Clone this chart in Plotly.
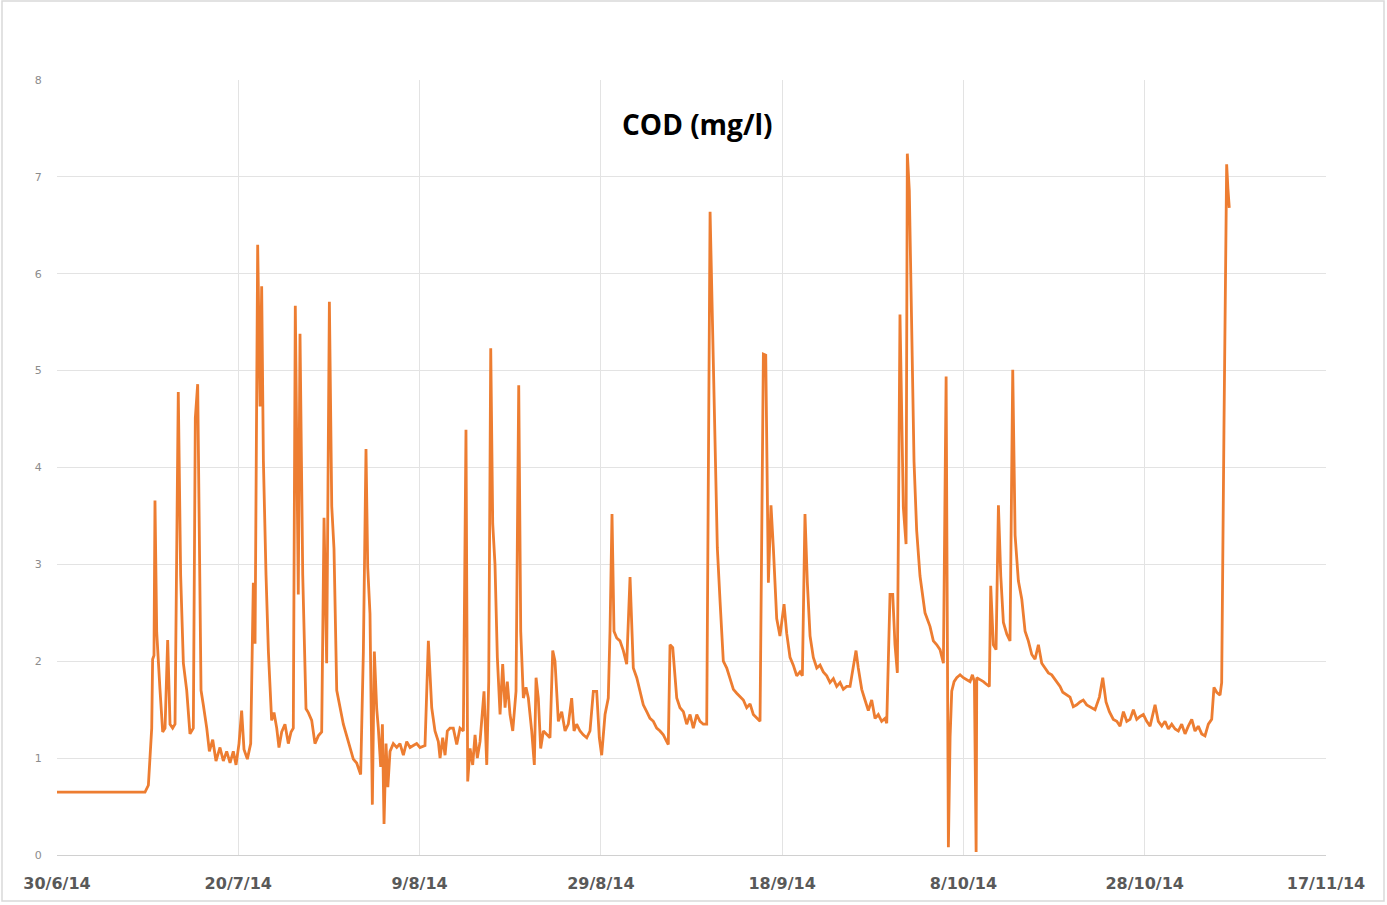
import pandas as pd
import plotly.graph_objects as go

start_date = "2014-06-30"

# time in days since 30/6/14 and COD value (mg/l)
days_since_start = [
    0.0, 9.71, 10.08, 10.45, 10.55, 10.70, 10.81, 11.0, 11.36, 11.66, 11.92, 12.21, 12.47, 12.76, 13.02,
    13.38, 13.64, 13.94, 14.31, 14.67, 15.04, 15.26, 15.52, 15.70, 15.89, 16.14, 16.52, 16.81, 17.18,
    17.54, 17.98, 18.35, 18.72, 19.09, 19.45, 19.75, 20.08, 20.37, 20.63, 21.0, 21.37, 21.66, 21.85,
    22.14, 22.40, 22.58, 22.77, 23.06, 23.32, 23.68, 23.94, 24.24, 24.49, 24.79, 25.15, 25.52, 25.82,
    26.07, 26.29, 26.62, 26.81, 27.11, 27.47, 27.73, 28.10, 28.46, 28.83, 29.20, 29.46, 29.75, 30.05,
    30.31, 30.56, 30.86, 31.22, 31.59, 31.96, 32.33, 32.69, 33.06, 33.50, 33.80, 34.09, 34.28, 34.53,
    34.79, 35.01, 35.27, 35.45, 35.71, 35.9, 36.08, 36.30, 36.5, 36.74, 37.10, 37.48, 37.84, 38.21,
    38.58, 38.95, 39.31, 39.68, 40.05, 40.60,
    40.97, 41.34, 41.70, 42.07, 42.26, 42.55, 42.81, 43.06, 43.36, 43.72, 44.10, 44.46, 44.83, 45.12,
    45.31, 45.57, 45.86, 46.12, 46.37, 46.67, 47.11, 47.41, 47.63, 47.85, 48.07, 48.32, 48.58, 48.88,
    49.17, 49.43, 49.68, 49.98, 50.28, 50.64, 50.94, 51.16, 51.45, 51.74, 52.0, 52.37, 52.66, 52.85,
    53.10, 53.36, 53.66, 54.03, 54.39, 54.69, 54.94, 55.31, 55.68, 56.05, 56.41, 56.78, 57.04, 57.33,
    57.70, 58.06, 58.44, 58.80, 59.17, 59.54, 59.83, 60.09, 60.46, 60.82, 61.01, 61.23, 61.45, 61.75,
    62.11, 62.48, 62.85, 63.22, 63.58, 63.96, 64.32, 64.68, 65.06, 65.42, 65.79, 66.16, 66.53, 66.89,
    67.27, 67.44, 67.63, 67.93, 68.37, 68.73, 69.10, 69.47, 69.84, 70.20, 70.58, 70.94, 71.30, 71.68,
    72.05, 72.41, 72.60, 72.85, 73.15, 73.51, 73.89, 74.25, 74.62, 74.99, 75.35, 75.72, 76.09, 76.46,
    76.82, 77.20, 77.56, 77.93, 78.19, 78.48, 78.77, 79.03, 79.40, 79.76, 80.21, 80.50, 80.87, 81.23,
    81.61, 81.97, 82.23, 82.52, 82.78, 83.08, 83.44, 83.82, 84.18, 84.54, 84.92, 85.28, 85.65, 86.02,
    86.39, 86.75, 87.12, 87.49, 87.85, 88.15, 88.40, 88.78, 89.14, 89.51, 89.88, 90.25, 90.61, 90.98,
    91.35, 91.54, 91.90, 92.2, 92.45, 92.71, 93.0, 93.37, 93.67, 93.81, 94.03, 94.29, 94.55, 94.84,
    95.21, 95.76, 96.31, 96.68, 97.06, 97.42, 97.79, 98.09, 98.23, 98.34, 98.53, 98.71, 98.97, 99.26,
    99.63, 99.99, 100.37, 100.73, 100.99, 101.21, 101.40, 101.47, 101.83, 102.2, 102.57, 102.86, 103.01,
    103.30, 103.6, 103.86, 104.12, 104.41, 104.79, 105.14, 105.44, 105.70, 106.06, 106.44, 106.80,
    107.16, 107.54, 107.90, 108.27, 108.64, 109.0, 109.37, 109.74, 110.10, 110.66, 110.96, 111.39,
    111.76, 112.12, 112.5, 112.86, 113.22, 113.6, 113.97, 114.52, 115.0, 115.37, 115.73, 116.10, 116.54,
    116.92, 117.28, 117.65, 118.02, 118.38, 118.75, 119.12, 119.49, 119.85, 120.22, 120.59, 121.14,
    121.50, 121.88, 122.24, 122.61, 122.98, 123.35, 123.71, 124.08, 124.45, 124.81, 125.19, 125.55,
    125.91, 126.29, 126.65, 127.02, 127.39, 127.64, 127.94, 128.31, 128.49, 128.74, 129.04, 129.18, 129.33,
]

cod_mg_l = [
    0.65, 0.65, 0.72, 1.31, 2.02, 2.06, 3.66, 2.30, 1.71, 1.27, 1.31, 2.22, 1.35, 1.31, 1.35,
    4.78, 2.89, 1.98, 1.70, 1.25, 1.31, 4.51, 4.86, 3.28, 1.70, 1.55, 1.31, 1.07, 1.19,
    0.97, 1.11, 0.97, 1.07, 0.95, 1.07, 0.93, 1.15, 1.49, 1.09, 0.99, 1.15, 2.81, 2.18,
    6.30, 4.63, 5.87, 4.07, 2.89, 2.10, 1.39, 1.47, 1.31, 1.11, 1.27, 1.35, 1.15, 1.27,
    1.31, 5.67, 2.69, 5.38, 2.89, 1.51, 1.47, 1.39, 1.15, 1.23, 1.27, 3.48, 1.98, 5.71,
    3.60, 3.16, 1.70, 1.51, 1.35, 1.23, 1.11, 0.99, 0.95, 0.83, 2.10, 4.19, 2.97, 2.49,
    0.52, 2.10, 1.51, 1.31, 0.91, 1.35, 0.32, 1.15, 0.70, 1.07, 1.15, 1.11, 1.15, 1.03,
    1.17, 1.11, 1.13, 1.15, 1.11, 1.13,
    2.21, 1.52, 1.28, 1.17, 1.00, 1.21, 1.03, 1.28, 1.31, 1.31, 1.14, 1.31, 1.28, 4.39,
    0.76, 1.10, 0.93, 1.24, 1.00, 1.17, 1.69, 0.93, 1.79, 5.23, 3.42, 3.00, 2.04, 1.45,
    1.97, 1.52, 1.79, 1.45, 1.28, 1.69, 4.85, 2.31, 1.62, 1.73, 1.62, 1.28, 0.93, 1.83,
    1.62, 1.10, 1.28, 1.24, 1.21, 2.11, 2.00, 1.38, 1.48, 1.28, 1.35, 1.62, 1.28, 1.35,
    1.28, 1.24, 1.21, 1.28, 1.69, 1.69, 1.21, 1.03, 1.45, 1.62, 2.31, 3.52, 2.31, 2.24,
    2.21, 2.11, 1.97, 2.87, 1.93, 1.83, 1.69, 1.55, 1.48, 1.41, 1.38, 1.31, 1.28, 1.24,
    1.17, 1.14, 2.17, 2.14, 1.62, 1.52, 1.48, 1.35, 1.45, 1.31, 1.45, 1.38, 1.35, 1.35,
    6.64, 5.01, 4.09, 3.17, 2.62, 2.00, 1.93, 1.82, 1.71, 1.67, 1.63, 1.60, 1.52, 1.56,
    1.45, 1.41, 1.38, 5.17, 5.16, 2.81, 3.61, 3.17, 2.44, 2.26, 2.59, 2.29, 2.04, 1.96,
    1.85, 1.89, 1.85, 3.52, 2.81, 2.26, 2.04, 1.93, 1.96, 1.89, 1.85, 1.78, 1.82, 1.74,
    1.78, 1.71, 1.74, 1.74, 1.93, 2.11, 1.93, 1.71, 1.60, 1.49, 1.60, 1.41, 1.45, 1.38,
    1.41, 1.36, 2.69, 2.69, 2.17, 1.88, 5.58, 3.59, 3.21, 7.24, 6.86, 5.48, 4.06, 3.35,
    2.88, 2.50, 2.36, 2.21, 2.17, 2.12, 1.98, 4.94, 1.69, 0.08, 1.22, 1.69, 1.79, 1.83,
    1.86, 1.83, 1.81, 1.79, 1.86, 1.79, 0.03, 1.83, 1.81, 1.79, 1.76, 1.74, 2.78,
    2.17, 2.12, 3.61, 2.88, 2.40, 2.28, 2.21, 5.01, 3.30, 2.83, 2.64, 2.31,
    2.21, 2.07, 2.02, 2.17, 1.98, 1.93, 1.88, 1.86, 1.81, 1.74, 1.68, 1.65,
    1.63, 1.53, 1.55, 1.58, 1.60, 1.55, 1.53, 1.50, 1.63, 1.83, 1.58, 1.48, 1.40,
    1.38, 1.33, 1.48, 1.38, 1.40, 1.50, 1.40, 1.43, 1.45, 1.38, 1.33, 1.55,
    1.38, 1.33, 1.38, 1.30, 1.35, 1.30, 1.28, 1.35, 1.25, 1.33, 1.40, 1.28,
    1.33, 1.25, 1.23, 1.35, 1.40, 1.73, 1.68, 1.65, 1.78, 4.38, 7.13, 6.88, 6.68,
]

tick_dates = ["2014-06-30", "2014-07-20", "2014-08-09", "2014-08-29",
              "2014-09-18", "2014-10-08", "2014-10-28", "2014-11-17"]
tick_labels = ["30/6/14", "20/7/14", "9/8/14", "29/8/14",
               "18/9/14", "8/10/14", "28/10/14", "17/11/14"]
y_ticks = [0, 1, 2, 3, 4, 5, 6, 7, 8]
title_text = "COD (mg/l)"

times = pd.Timestamp(start_date) + pd.to_timedelta(days_since_start, unit="D")

fig = go.Figure()
fig.add_trace(go.Scatter(
    x=times, y=cod_mg_l, mode="lines",
    line=dict(color="#ED7D31", width=2.8),
    showlegend=False, hoverinfo="x+y",
))

grid = "#E3E3E3"
fig.update_xaxes(
    type="date",
    range=[tick_dates[0], tick_dates[-1]],
    tickmode="array", tickvals=tick_dates, ticktext=tick_labels,
    showgrid=True, gridcolor=grid, gridwidth=1,
    showline=True, linecolor="#D0D0D0", linewidth=1,
    ticks="outside", ticklen=14, tickcolor="rgba(0,0,0,0)",
    tickfont=dict(family="DejaVu Sans", size=16, color="#595959", weight="bold"),
    zeroline=False,
)
fig.update_yaxes(
    range=[0, 8], tickmode="array", tickvals=y_ticks,
    showgrid=True, gridcolor=grid, gridwidth=1,
    ticks="outside", ticklen=12, tickcolor="rgba(0,0,0,0)",
    tickfont=dict(family="DejaVu Sans", size=11, color="#8C8C8C"),
    zeroline=False, showline=False,
)

fig.add_annotation(
    text="<b>" + title_text + "</b>", xref="paper", yref="paper",
    x=0.505, y=0.943, showarrow=False, xanchor="center", yanchor="middle",
    font=dict(family="Open Sans", size=28, color="#000000"),
)

# outer chart border
fig.add_shape(
    type="rect", xref="paper", yref="paper",
    x0=(2 - 57) / 1269, x1=(1384 - 57) / 1269,
    y0=(855 - 901) / 775, y1=(855 - 1) / 775,
    line=dict(color="#D9D9D9", width=1.5), fillcolor="rgba(0,0,0,0)", layer="below",
)

fig.update_layout(
    width=1387, height=905,
    margin=dict(l=57, r=61, t=80, b=50),
    paper_bgcolor="white", plot_bgcolor="white",
)

fig.write_html("out.html", config={"displayModeBar": False})

# remove the default page margin so the figure sits at the window's top-left corner
with open("out.html", encoding="utf-8") as f:
    html = f.read()
html = html.replace("<head>", "<head><style>html,body{margin:0;padding:0;overflow:hidden;}</style>", 1)
with open("out.html", "w", encoding="utf-8") as f:
    f.write(html)
